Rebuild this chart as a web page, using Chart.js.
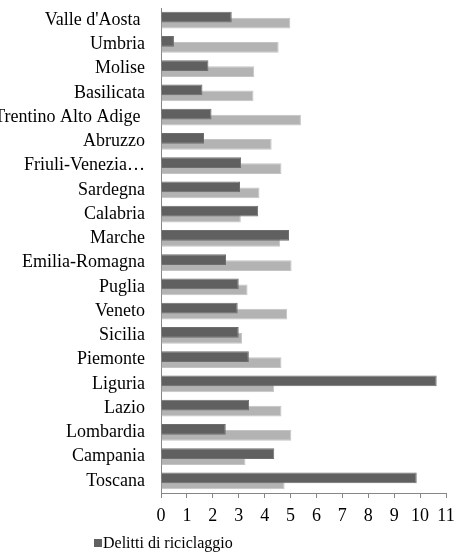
<!DOCTYPE html>
<html>
<head>
<meta charset="utf-8">
<script src="https://cdn.jsdelivr.net/npm/chart.js@4/dist/chart.umd.min.js"></script>
<style>
  html, body { margin: 0; padding: 0; background: #fff; overflow: hidden; }
  #wrap { position: relative; width: 455px; height: 552px; }
  #legend {
    position: absolute; left: 94px; top: 534px;
    font: 16px "Liberation Serif", "Times New Roman", serif; color: #000;
    white-space: nowrap;
  }
  #legend .box {
    display: inline-block; width: 8px; height: 8px; background: #606060;
    margin-right: 1px; vertical-align: 1px;
  }
</style>
</head>
<body>
<div id="wrap">
  <canvas id="the-graph" width="455" height="552"></canvas>
  <div id="legend"><span class="box"></span>Delitti di riciclaggio</div>
</div>
<script>
var regions = [
  "Valle d'Aosta ", 'Umbria', 'Molise', 'Basilicata', 'Trentino Alto Adige ',
  'Abruzzo', 'Friuli-Venezia…', 'Sardegna', 'Calabria', 'Marche',
  'Emilia-Romagna', 'Puglia', 'Veneto', 'Sicilia', 'Piemonte',
  'Liguria', 'Lazio', 'Lombardia', 'Campania', 'Toscana'
];
var riciclaggio = [
  2.73, 0.50, 1.83, 1.60, 1.95,
  1.66, 3.09, 3.05, 3.75, 4.94,
  2.51, 3.00, 2.96, 3.00, 3.39,
  10.64, 3.40, 2.50, 4.37, 9.87
];
var secondSeries = [
  4.99, 4.54, 3.60, 3.57, 5.40,
  4.27, 4.65, 3.80, 3.08, 4.60,
  5.04, 3.34, 4.87, 3.13, 4.65,
  4.37, 4.65, 5.03, 3.26, 4.77
];
var xTicks = [0, 1, 2, 3, 4, 5, 6, 7, 8, 9, 10, 11];

var serif = '"Liberation Serif", "Times New Roman", serif';
var axisGrey = '#868686';

var drawChart = function () {
  var ctx = document.getElementById('the-graph');
  return new Chart(ctx, {
    type: 'bar',
    data: {
      labels: regions,
      datasets: [{
        label: 'Delitti di riciclaggio',
        data: riciclaggio,
        backgroundColor: '#606060',
        borderColor: '#6e6e6e',
        borderWidth: 1
      }, {
        label: '',
        data: secondSeries,
        backgroundColor: '#b3b3b3',
        borderColor: '#c4c4c4',
        borderWidth: 1
      }]
    },
    options: {
      indexAxis: 'y',
      responsive: false,
      animation: false,
      events: [],
      categoryPercentage: 0.5,
      barPercentage: 1.8,
      layout: { padding: { top: 8, right: 9, bottom: 0, left: 0 } },
      plugins: {
        legend: { display: false },
        tooltip: { enabled: false }
      },
      scales: {
        y: {
          afterFit: function (scale) {
            scale.width = 161;
            scale.paddingTop = 0;
            scale.paddingBottom = 0;
          },
          grid: { display: false, drawTicks: false },
          border: { display: true, color: axisGrey },
          ticks: { color: '#000', padding: 16, autoSkip: false,
                   font: { family: serif, size: 18 } }
        },
        x: {
          min: xTicks[0],
          max: xTicks[xTicks.length - 1],
          afterFit: function (scale) {
            scale.height = 59;
            scale.paddingLeft = 0;
            scale.paddingRight = 0;
          },
          afterBuildTicks: function (scale) {
            scale.ticks = xTicks.map(function (v) { return { value: v }; });
          },
          grid: { drawOnChartArea: false, drawTicks: true, tickLength: 5, color: axisGrey },
          border: { display: true, color: axisGrey },
          ticks: { color: '#000', padding: 7, maxRotation: 0, autoSkip: false,
                   font: { family: serif, size: 18 } }
        }
      }
    }
  });
};

drawChart();
</script>
</body>
</html>
